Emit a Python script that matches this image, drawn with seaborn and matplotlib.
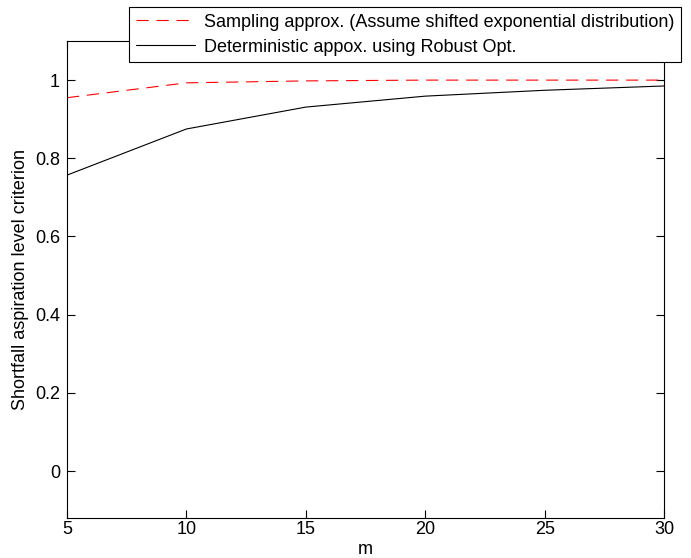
import matplotlib
matplotlib.use('Agg')
import matplotlib.pyplot as plt
import seaborn as sns
import pandas as pd

# Valores
m_values = [5, 10, 15, 20, 25, 30]
sampling_vals = [0.955, 0.993, 0.998, 1.0, 1.0, 1.0]
robust_vals = [0.757, 0.875, 0.931, 0.959, 0.974, 0.985]

sampling_label = 'Sampling approx. (Assume shifted exponential distribution)'
robust_label = 'Deterministic appox. using Robust Opt.'

sns.set_style('white')
plt.rcParams['font.family'] = ['Liberation Sans', 'DejaVu Sans']
plt.rcParams['text.color'] = 'black'
plt.rcParams['axes.labelcolor'] = 'black'

df = pd.DataFrame({'m': m_values, 'Sampling': sampling_vals, 'Robust': robust_vals})

fig = plt.figure(figsize=(6.91, 5.58), dpi=100)
ax = fig.add_axes([0.097, 0.0717, 0.864, 0.8548])

sns.lineplot(x='m', y='Sampling', data=df, ax=ax, color='red', linestyle=(0, (11, 7)),
             linewidth=0.8, label=sampling_label)
sns.lineplot(x='m', y='Robust', data=df, ax=ax, color='black', linewidth=0.8,
             label=robust_label)

ax.set_xlim(5, 30)
ax.set_ylim(-0.12, 1.1)
ax.set_xticks([5, 10, 15, 20, 25, 30])
ax.set_yticks([0, 0.2, 0.4, 0.6, 0.8, 1])
ax.set_yticklabels(['0', '0.2', '0.4', '0.6', '0.8', '1'])
ax.tick_params(direction='in', length=6, width=0.8, top=True, right=True,
               bottom=True, left=True, labelsize=13, colors='black')
ax.tick_params(axis='x', pad=2)
ax.tick_params(axis='y', pad=5)
for sp in ax.spines.values():
    sp.set_linewidth(0.8)
    sp.set_color('black')

ax.set_xlabel('m', fontsize=13, labelpad=2)
ax.set_ylabel('Shortfall aspiration level criterion', fontsize=13, labelpad=4)

leg = ax.legend(loc='upper right', bbox_to_anchor=(0.9855, 0.987),
                bbox_transform=fig.transFigure, fontsize=13, frameon=True,
                fancybox=False, edgecolor='black', framealpha=1,
                borderpad=0.35, handlelength=3.3, handletextpad=0.5,
                labelspacing=0.45, borderaxespad=0)
leg.get_frame().set_linewidth(0.8)
for t in leg.get_texts():
    t.set_color('black')

fig.savefig('out.png', dpi=100)
